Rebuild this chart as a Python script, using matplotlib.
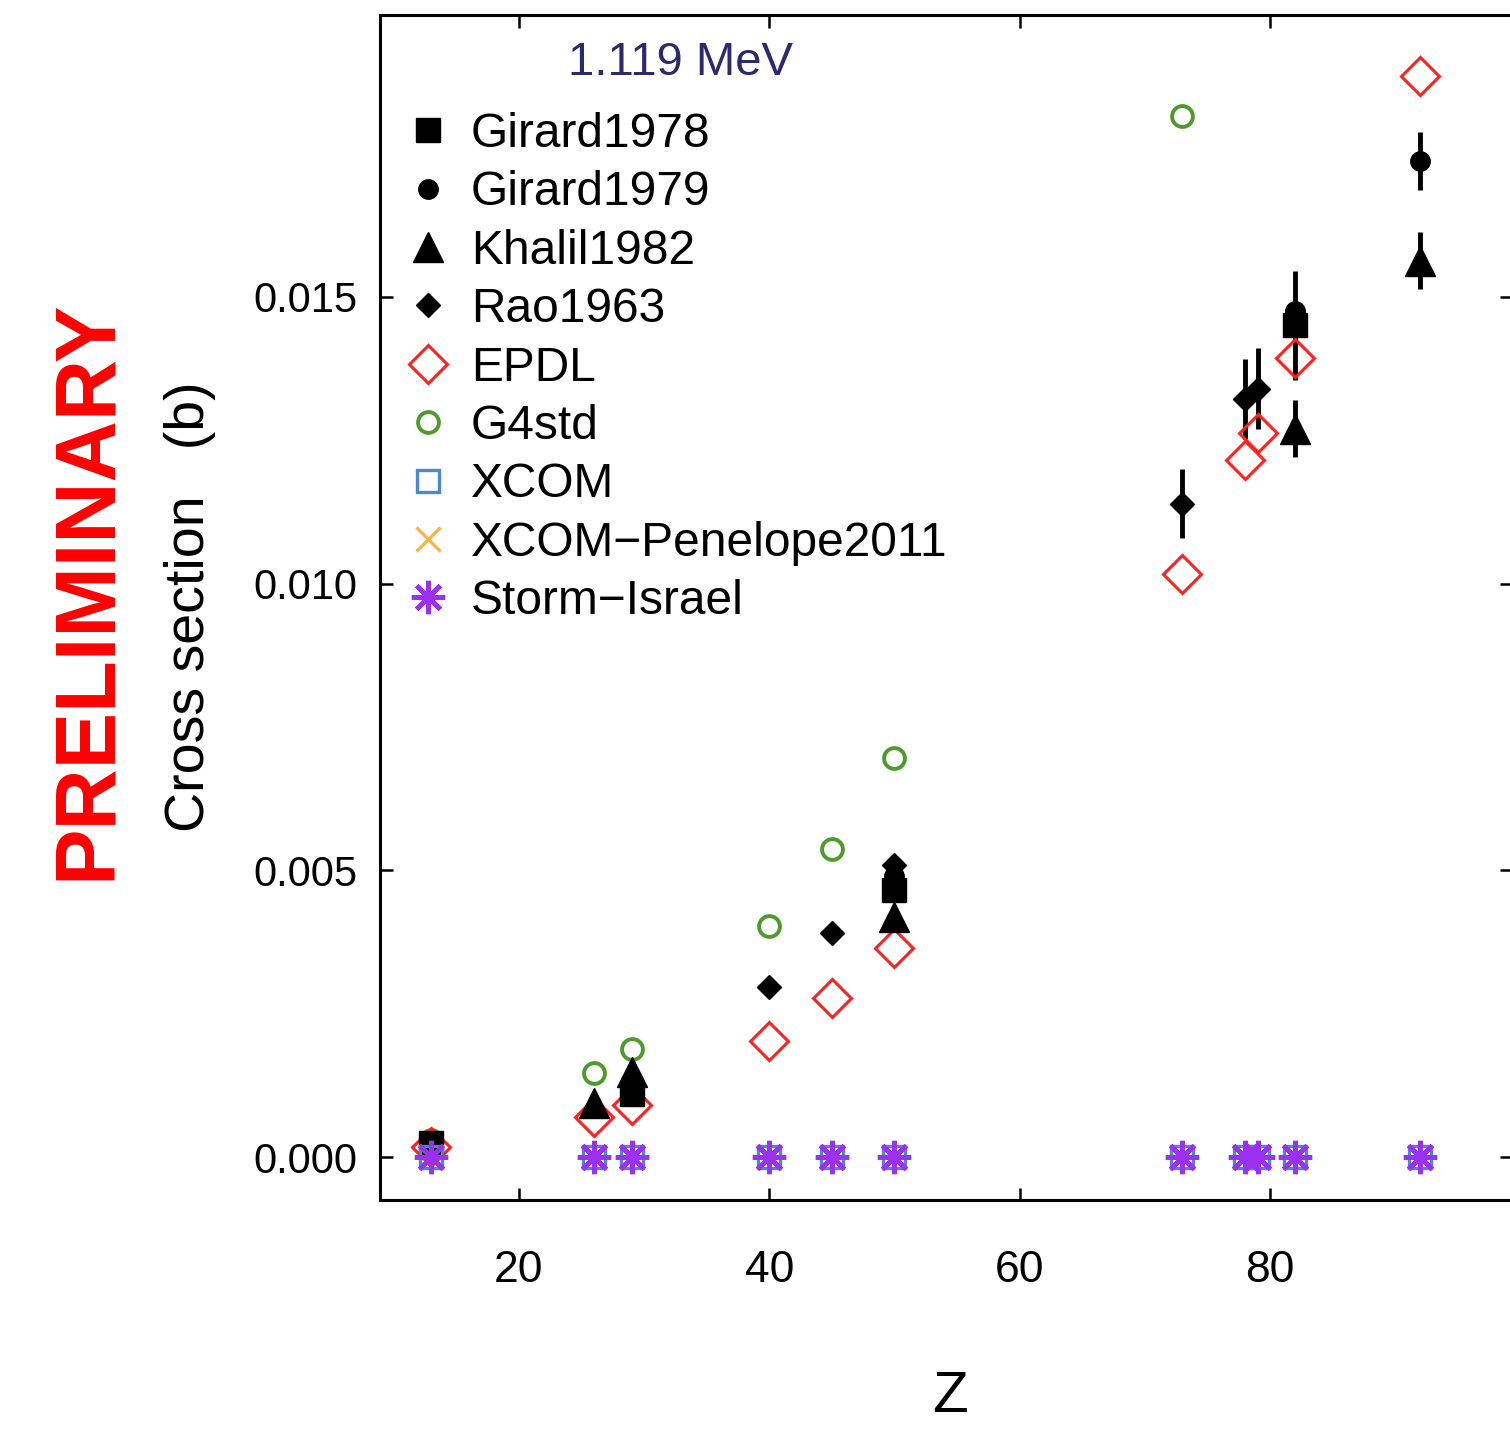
import matplotlib
matplotlib.use("Agg")
import matplotlib.pyplot as plt
import numpy as np

# Z values of all targets
z_all = [13, 26, 29, 40, 45, 50, 73, 78, 79, 82, 92]

# calculations
epdl = [0.00017, 0.0007, 0.0009, 0.00202, 0.00277, 0.00364,
        0.01017, 0.01216, 0.01263, 0.01394, 0.01885]
g4std_z = [13, 26, 29, 40, 45, 50, 73]
g4std = [0.0003, 0.00146, 0.00188, 0.00402, 0.00537, 0.00695, 0.01815]
xcom = [0.0] * len(z_all)
penelope = [0.0] * len(z_all)
storm = [0.0] * len(z_all)

# measurements
girard78_z = [13, 29, 50, 82]
girard78 = [0.00024, 0.0011, 0.00465, 0.0145]
girard78_err = [0.0, 0.0, 0.0, 0.00095]

girard79_z = [29, 50, 82, 92]
girard79 = [0.0013, 0.0049, 0.01475, 0.01737]
girard79_err = [0.0, 0.0, 0.0, 0.0005]

khalil_z = [26, 29, 50, 82, 92]
khalil = [0.00094, 0.00148, 0.00418, 0.0127, 0.01563]
khalil_err = [0.0, 0.0, 0.0, 0.0005, 0.0005]

rao_z = [40, 45, 50, 73, 78, 79]
rao = [0.00296, 0.0039, 0.0051, 0.01139, 0.01322, 0.0134]
rao_err = [0.0, 0.0, 0.0, 0.0006, 0.0007, 0.0007]

xticks = [20, 40, 60, 80]
yticks = [0.0, 0.005, 0.010, 0.015]

sans = ['Liberation Sans', 'DejaVu Sans']
narrow = ['Liberation Sans Narrow', 'Liberation Sans', 'DejaVu Sans']

W, H = 1510, 1438
fig = plt.figure(figsize=(W / 100, H / 100), dpi=100)
ax = fig.add_axes([380 / W, (H - 1200) / H, (1512 - 380) / W, (1200 - 15) / H])

# error bars first
for zz, vv, ee in [(girard78_z, girard78, girard78_err), (girard79_z, girard79, girard79_err),
                   (khalil_z, khalil, khalil_err), (rao_z, rao, rao_err)]:
    ax.errorbar(zz, vv, yerr=ee, fmt='none', ecolor='black', elinewidth=3.5, capsize=0)

h_g4, = ax.plot(g4std_z, g4std, 'o', ms=15, mfc='none', mec='#4f9a2c', mew=2.8, ls='none')
h_epdl, = ax.plot(z_all, epdl, 'D', ms=19, mfc='none', mec='#ff2020', mew=2.2, ls='none')
h_g78, = ax.plot(girard78_z, girard78, 's', ms=17, color='black', ls='none')
h_g79, = ax.plot(girard79_z, girard79, 'o', ms=14, color='black', ls='none')
h_kh, = ax.plot(khalil_z, khalil, '^', ms=21, color='black', ls='none')
h_rao, = ax.plot(rao_z, rao, 'D', ms=12, color='black', ls='none')
h_xcom, = ax.plot(z_all, xcom, 's', ms=16, mfc='none', mec='#4a88d6', mew=2.4, ls='none')
h_pen, = ax.plot(z_all, penelope, 'x', ms=17, color='#ffb340', mew=2.4, ls='none')
h_st, = ax.plot(z_all, storm, marker=(8, 2, 0), ms=24, color='#9b30f0', mew=3.5, ls='none')

ax.set_xlim(8.9, 99.33)
ax.set_ylim(-0.000749, 0.019913)
ax.set_xticks(xticks)
ax.set_yticks(yticks)
ax.set_yticklabels(['%.3f' % v for v in yticks], fontsize=30, family=sans)
ax.set_xticklabels([str(v) for v in xticks], fontsize=32, family=narrow)
ax.tick_params(direction='in', length=9, width=1.8, top=True, right=True)
ax.tick_params(axis='y', pad=16)
ax.tick_params(axis='x', pad=36)
for s in ax.spines.values():
    s.set_linewidth(2.2)

ax.text(0.2659, 0.9595, '1.119 MeV', transform=ax.transAxes, ha='center', va='center',
        fontsize=34, family=sans, color='#2b2b6b')

leg = ax.legend([h_g78, h_g79, h_kh, h_rao, h_epdl, h_g4, h_xcom, h_pen, h_st],
                ['Girard1978', 'Girard1979', 'Khalil1982', 'Rao1963', 'EPDL', 'G4std',
                 'XCOM', 'XCOM\u2212Penelope2011', 'Storm\u2212Israel'],
                loc='upper left', bbox_to_anchor=(0.021, 0.9182),
                frameon=False, numpoints=1, handlelength=1.0, handletextpad=0.4,
                labelspacing=0.28, borderpad=0, borderaxespad=0,
                prop={'family': sans, 'size': 34.5})

fig.text(0.0583, 0.5897, 'PRELIMINARY', rotation=90, ha='center', va='center',
         color='red', fontsize=61, fontweight='bold', family=sans)
fig.text(190 / W, (H - 607) / H, 'Cross section   (b)', rotation=90, ha='center', va='center',
         fontsize=40, family=sans)
fig.text(950 / W, (H - 1397) / H, 'Z', ha='center', va='center', fontsize=42, family=narrow)

fig.savefig('out.png', dpi=100)
